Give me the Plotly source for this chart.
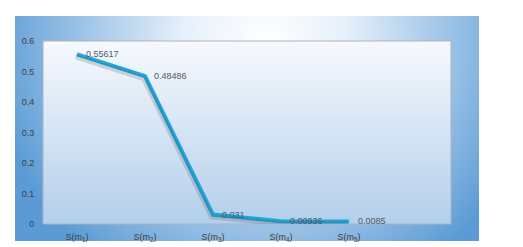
import base64
import plotly.graph_objects as go

categories = ["S(m<sub>1</sub>)", "S(m<sub>2</sub>)", "S(m<sub>3</sub>)", "S(m<sub>4</sub>)", "S(m<sub>5</sub>)"]
values = [0.55617, 0.48486, 0.031, 0.00936, 0.0085]
value_labels = ["0.55617", "0.48486", "0.031", "0.00936", "0.0085"]
y_ticks = [0, 0.1, 0.2, 0.3, 0.4, 0.5, 0.6]
y_ticktext = ["0", "0.1", "0.2", "0.3", "0.4", "0.5", "0.6"]

W, H = 523, 247
L, R, T, B = 43, 451, 41, 224   # inner plot area (px)
OX0, OY0, OX1, OY1 = 15, 16, 479, 241  # outer chart box (px)

ow, oh = OX1 - OX0, OY1 - OY0
svg = f'''<svg xmlns="http://www.w3.org/2000/svg" width="{ow}" height="{oh}" viewBox="0 0 {ow} {oh}" preserveAspectRatio="none">
<defs>
<radialGradient id="o" gradientUnits="userSpaceOnUse" cx="250" cy="25" r="275">
<stop offset="0" stop-color="#ffffff"/>
<stop offset="0.3" stop-color="#e6f0fa"/>
<stop offset="1" stop-color="#5b9bd5"/>
</radialGradient>
<linearGradient id="i" x1="0" y1="0" x2="0" y2="1">
<stop offset="0" stop-color="#f6f9fd"/>
<stop offset="1" stop-color="#b3cfeb"/>
</linearGradient>
</defs>
<rect x="0" y="0" width="{ow}" height="{oh}" fill="url(#o)"/>
<rect x="{L-OX0}" y="{T-OY0}" width="{R-L}" height="{B-T}" fill="url(#i)" stroke="#a9b3bf" stroke-width="1"/>
</svg>'''
src = "data:image/svg+xml;base64," + base64.b64encode(svg.encode()).decode()

pw, ph = R - L, B - T
img_x = (OX0 - L) / pw
img_y = (B - OY0) / ph
img_sx = ow / pw
img_sy = oh / ph

fig = go.Figure()
# soft shadow drawn on a slightly offset overlay axis
fig.add_trace(go.Scatter(
    x=categories, y=values, mode="lines", xaxis="x2", yaxis="y2",
    line=dict(color="rgba(70,70,70,0.2)", width=5), hoverinfo="skip", showlegend=False,
))
fig.add_trace(go.Scatter(
    x=categories, y=values, mode="lines",
    line=dict(color="#1fa6df", width=4), showlegend=False,
))

annotations = [
    dict(x=c, y=v, text=t, xref="x", yref="y", showarrow=False, xanchor="left",
         yanchor="middle", xshift=7,
         font=dict(family="Liberation Sans", size=9, color="#4d5a6a"))
    for c, v, t in zip(categories, values, value_labels)
]

fig.update_layout(
    width=W, height=H,
    margin=dict(l=L, r=W - R, t=T, b=H - B, pad=0, autoexpand=False),
    paper_bgcolor="white", plot_bgcolor="rgba(0,0,0,0)",
    annotations=annotations,
    images=[dict(source=src, xref="paper", yref="paper", x=img_x, y=img_y,
                 sizex=img_sx, sizey=img_sy, sizing="stretch",
                 xanchor="left", yanchor="top", layer="below")],
    xaxis=dict(type="category", range=[-0.5, 5.5], showgrid=False, zeroline=False,
               showline=False, ticks="outside", ticklen=4, tickcolor="rgba(0,0,0,0)",
               automargin=False,
               tickfont=dict(family="Liberation Sans", size=9, color="#404040")),
    yaxis=dict(range=[0, 0.6], tickvals=y_ticks, ticktext=y_ticktext, showgrid=False,
               zeroline=False, showline=False, ticks="outside", ticklen=6,
               tickcolor="rgba(0,0,0,0)", automargin=False,
               tickfont=dict(family="Liberation Sans", size=9, color="#404040")),
    xaxis2=dict(type="category", range=[-0.5 + 0.02, 5.5 + 0.02], overlaying="x",
                visible=False, categoryorder="array", categoryarray=categories),
    yaxis2=dict(range=[0.008, 0.608], overlaying="y", visible=False),
)

fig.write_html("out.html", config={"displayModeBar": False},
               post_script="document.body.style.margin='0';")
